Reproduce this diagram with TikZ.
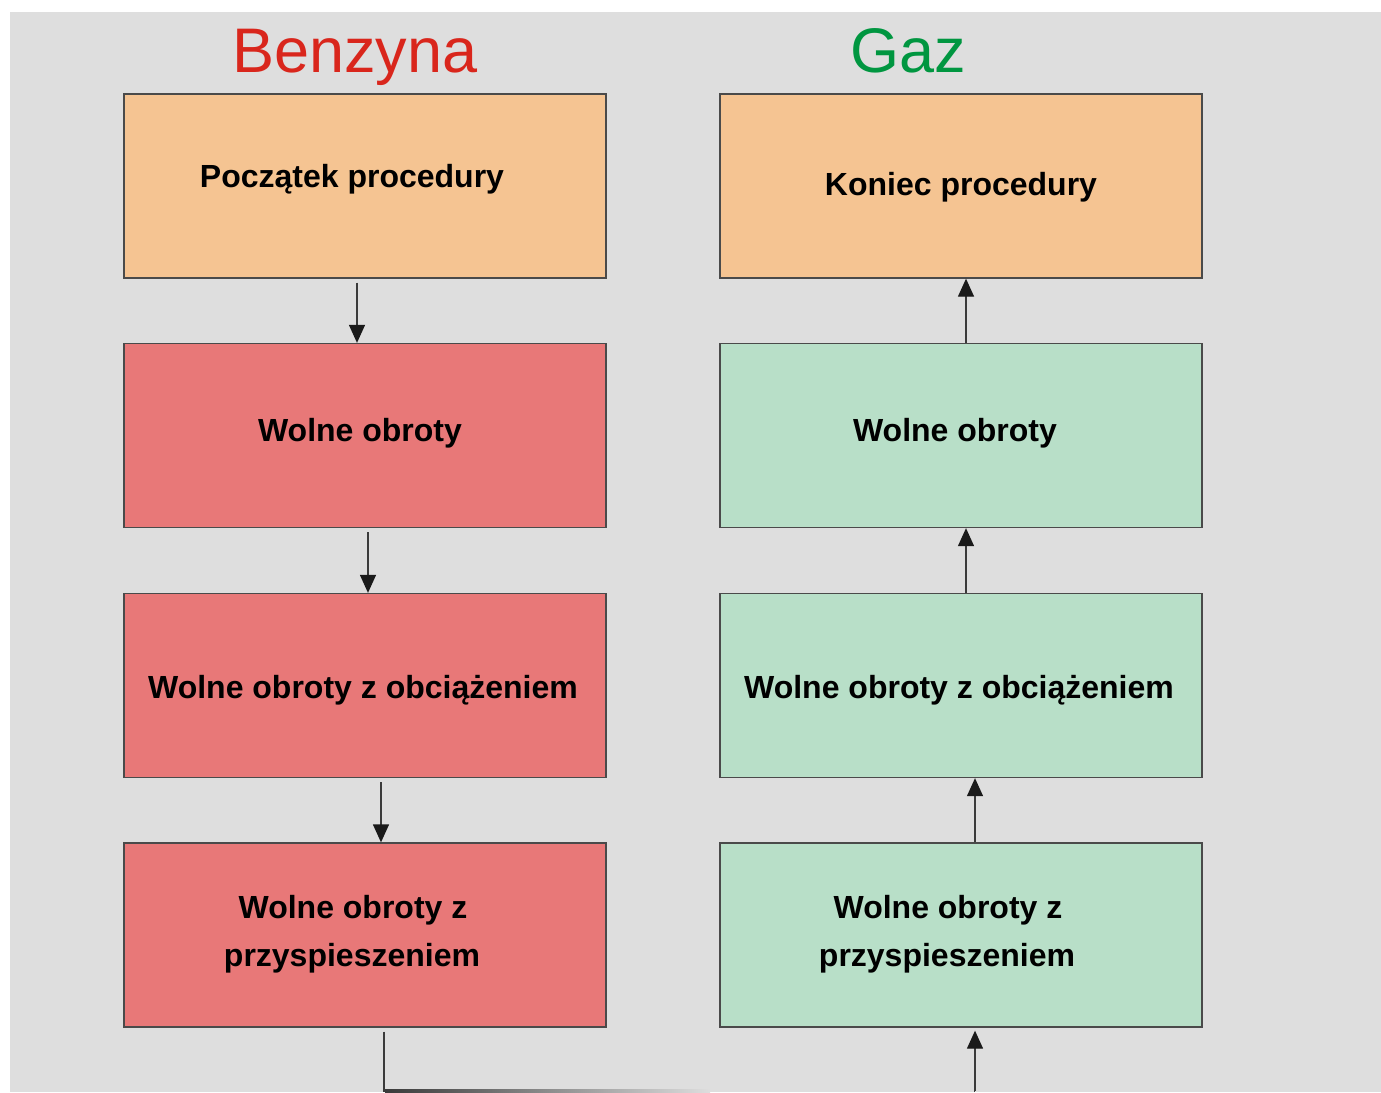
\documentclass[tikz,border=0pt]{standalone}
\usepackage{fontspec}
\setmainfont{Liberation Sans}
\usetikzlibrary{arrows.meta}
\definecolor{bgc}{HTML}{DEDEDE}
\definecolor{boxorange}{HTML}{F5C492}
\definecolor{boxred}{HTML}{E87878}
\definecolor{boxgreen}{HTML}{B8DFC8}
\definecolor{edgec}{HTML}{4A4A4A}
\definecolor{titlered}{HTML}{D9261C}
\definecolor{titlegreen}{HTML}{009640}
\definecolor{linec}{HTML}{3A3A3A}
\definecolor{tipc}{HTML}{1A1A1A}
\tikzset{
  box/.style={draw=edgec, line width=1.3pt, minimum width=482pt, minimum height=184pt, inner sep=0pt},
  lbl/.style={anchor=base, font=\fontsize{32}{48}\selectfont\bfseries, text=black, align=center, inner sep=0pt},
  ttl/.style={anchor=base, font=\fontsize{63}{70}\selectfont, inner sep=0pt},
  arr/.style={draw=linec, line width=1.3pt, -{Triangle[length=18pt,width=16pt,fill=tipc,color=tipc]}},
  con/.style={draw=linec, line width=1.3pt}
}
\begin{document}
\begin{tikzpicture}[x=1pt,y=-1pt]
\useasboundingbox (0,0) rectangle (1381,1092);
\fill[white] (0,0) rectangle (1381,1092);
\fill[bgc] (10,12) rectangle (1381,1092);

\node[ttl, text=titlered] (tb) at (355,72) {Benzyna};
\node[ttl, text=titlegreen] (tg) at (908,72) {Gaz};

\node[box, fill=boxorange] (b1) at (365,186) {};
\node[box, fill=boxred] (b2) at (365,435.5) {};
\node[box, fill=boxred] (b3) at (365,685.5) {};
\node[box, fill=boxred] (b4) at (365,935) {};
\node[box, fill=boxorange] (g1) at (961,186) {};
\node[box, fill=boxgreen] (g2) at (961,435.5) {};
\node[box, fill=boxgreen] (g3) at (961,685.5) {};
\node[box, fill=boxgreen] (g4) at (961,935) {};

\node[lbl] (tb1) at (352,187) {Początek procedury};
\node[lbl] (tb2) at (360,441.5) {Wolne obroty};
\node[lbl] (tb3) at (363,698.5) {Wolne obroty z obciążeniem};
\node[lbl] (tb4a) at (353,918) {Wolne obroty z};
\node[lbl] (tb4b) at (352,966) {przyspieszeniem};
\node[lbl] (tg1) at (961,195) {Koniec procedury};
\node[lbl] (tg2) at (955,441.5) {Wolne obroty};
\node[lbl] (tg3) at (959,698.5) {Wolne obroty z obciążeniem};
\node[lbl] (tg4a) at (948,918) {Wolne obroty z};
\node[lbl] (tg4b) at (947,966) {przyspieszeniem};

\draw[arr, shorten <=4pt] (b1.south -| 357,0) -- (b2.north -| 357,0);
\draw[arr, shorten <=4pt] (b2.south -| 368,0) -- (b3.north -| 368,0);
\draw[arr, shorten <=4pt] (b3.south -| 381,0) -- (b4.north -| 381,0);
\draw[arr] (g2.north -| 966,0) -- (g1.south -| 966,0);
\draw[arr] (g3.north -| 966,0) -- (g2.south -| 966,0);
\draw[arr] (g4.north -| 975,0) -- (g3.south -| 975,0);
\coordinate (c1) at (384,1091);
\coordinate (c2) at (975,1091);
\draw[con, shorten <=4pt] (b4.south -| 384,0) -- (c1) -- (c2);
% fade of the bottom line, as in the reference
\shade[left color=linec, right color=bgc] (385,1089.5) rectangle (710,1092);
\fill[bgc] (710,1089.5) rectangle (974,1092);
\draw[arr, shorten >=3pt] (c2) -- (g4.south -| 975,0);
\end{tikzpicture}
\end{document}
